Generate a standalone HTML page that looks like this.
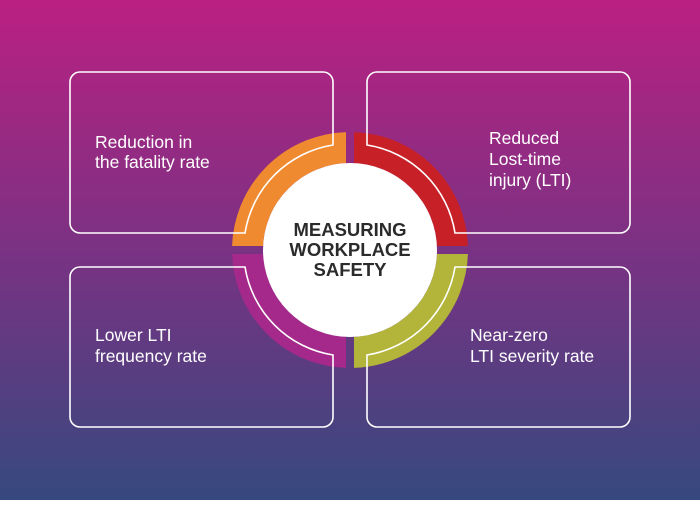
<!DOCTYPE html>
<html><head><meta charset="utf-8"><style>
html,body{margin:0;padding:0;}
body{width:700px;height:500px;overflow:hidden;}
</style></head><body>
<svg width="700" height="500" xmlns="http://www.w3.org/2000/svg">
<defs>
<linearGradient id="bg" x1="0" y1="0" x2="0" y2="1">
<stop offset="0" stop-color="#bb2082"/>
<stop offset="0.5" stop-color="#7a3283"/>
<stop offset="1" stop-color="#36497f"/>
</linearGradient>
<clipPath id="q1"><rect x="0" y="0" width="346" height="246"/></clipPath>
<clipPath id="q2"><rect x="354" y="0" width="346" height="246"/></clipPath>
<clipPath id="q3"><rect x="0" y="254" width="346" height="246"/></clipPath>
<clipPath id="q4"><rect x="354" y="254" width="346" height="246"/></clipPath>
</defs>
<rect width="700" height="500" fill="url(#bg)"/>
<g fill="none" stroke-width="31">
<circle cx="350" cy="250" r="102.5" stroke="#ef8a30" clip-path="url(#q1)"/>
<circle cx="350" cy="250" r="102.5" stroke="#c82027" clip-path="url(#q2)"/>
<circle cx="350" cy="250" r="102.5" stroke="#a4298a" clip-path="url(#q3)"/>
<circle cx="350" cy="250" r="102.5" stroke="#b3b43a" clip-path="url(#q4)"/>
</g>
<g fill="none" stroke="#fff" stroke-width="1.6">
<path d="M80,72 H323 A10,10 0 0 1 333,82 V145 A106,106 0 0 0 245,233 H80 A10,10 0 0 1 70,223 V82 A10,10 0 0 1 80,72 Z"/>
<path d="M377,72 H620 A10,10 0 0 1 630,82 V223 A10,10 0 0 1 620,233 H455 A106,106 0 0 0 367,145 V82 A10,10 0 0 1 377,72 Z"/>
<path d="M80,267 H245 A106,106 0 0 0 333,355 V417 A10,10 0 0 1 323,427 H80 A10,10 0 0 1 70,417 V277 A10,10 0 0 1 80,267 Z"/>
<path d="M377,427 H620 A10,10 0 0 0 630,417 V277 A10,10 0 0 0 620,267 H455 A106,106 0 0 1 367,355 V417 A10,10 0 0 0 377,427 Z"/>
</g>
<circle cx="350" cy="250" r="87" fill="#fff"/>
<g font-family="Liberation Sans, sans-serif" font-size="17.5" fill="#fff">
<text x="95" y="148">Reduction in</text>
<text x="95" y="168">the fatality rate</text>
<text x="489" y="144">Reduced</text>
<text x="489" y="165">Lost-time</text>
<text x="489" y="186">injury (LTI)</text>
<text x="95" y="341">Lower LTI</text>
<text x="95" y="362">frequency rate</text>
<text x="470" y="341">Near-zero</text>
<text x="470" y="362">LTI severity rate</text>
</g>
<g font-family="Liberation Sans, sans-serif" font-size="18.5" font-weight="bold" fill="#2b2b2b" text-anchor="middle">
<text x="350" y="236">MEASURING</text>
<text x="350" y="256">WORKPLACE</text>
<text x="350" y="276">SAFETY</text>
</g>
</svg>
</body></html>
